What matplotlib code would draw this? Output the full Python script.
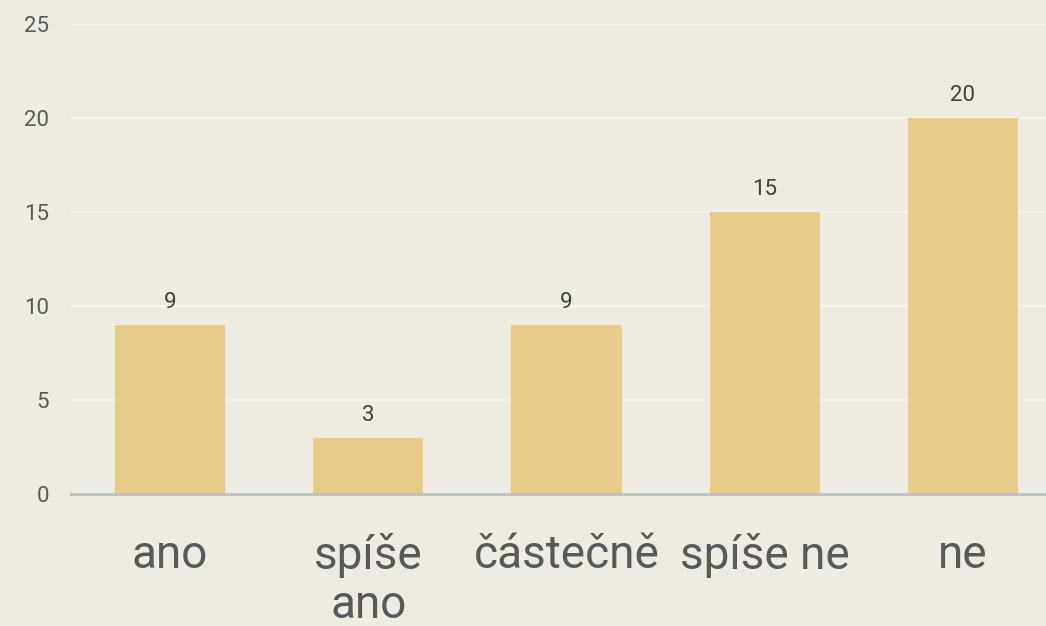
import matplotlib
matplotlib.use("Agg")
import matplotlib.pyplot as plt

categories = ["ano", "spíše\nano", "částečně", "spíše ne", "ne"]
values = [9, 3, 9, 15, 20]
yticks = [0, 5, 10, 15, 20, 25]

plt.rcParams['font.family'] = ['Roboto', 'DejaVu Sans']

bg = "#EEEBE3"
W, H = 1046, 626
fig = plt.figure(figsize=(W/100, H/100), dpi=100, facecolor=bg)
# plot area: x from 71px to ~1062px (last category slightly cut), y from 24px to 494px
ax = fig.add_axes([71/W, 1-494/H, (1062-71)/W, (494-24)/H], facecolor=bg)

x = list(range(len(categories)))
ax.bar(x, values, width=0.555, color="#E8CB88", zorder=3)
for xi, v in zip(x, values):
    ax.annotate(str(v), (xi, v), xytext=(0, 12), textcoords="offset pixels",
                ha="center", va="bottom", fontsize=16, color="#404040")

ax.set_xlim(-0.5, len(categories) - 0.5)
ax.set_ylim(0, 25)
ax.set_yticks(yticks)
ax.set_yticklabels([str(t) for t in yticks], fontsize=16, color="#595959")
ax.set_xticks(x)
ax.set_xticklabels(categories, fontsize=33, color="#595959", linespacing=1.15)
ax.tick_params(axis="y", length=0, pad=16)
ax.tick_params(axis="x", length=0, pad=28)
ax.grid(axis="y", color="#F5F3EF", linewidth=1.5, zorder=0)
for s in ["top", "right", "left"]:
    ax.spines[s].set_visible(False)
ax.spines["bottom"].set_color("#BFBFBF")
ax.spines["bottom"].set_linewidth(2)
ax.spines["bottom"].set_zorder(4)

fig.savefig("out.png", dpi=100, facecolor=bg)
